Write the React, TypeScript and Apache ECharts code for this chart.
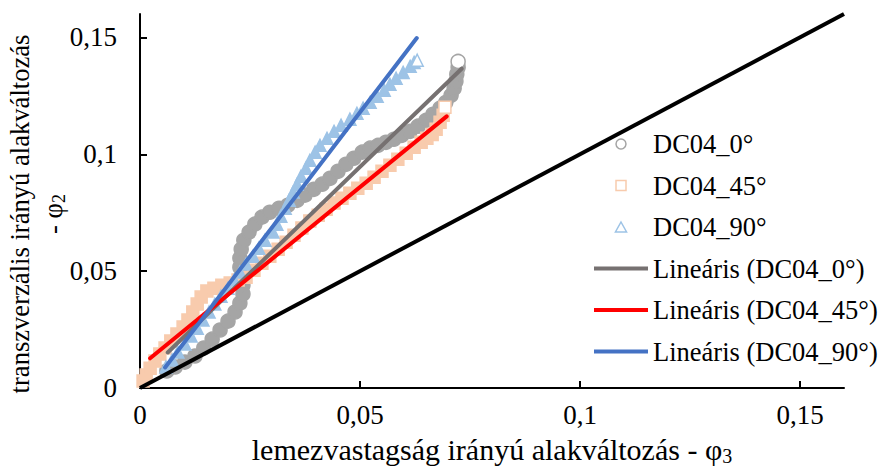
import React, { useEffect, useRef } from 'react';
import * as echarts from 'echarts';

// DC04_0° measured points (phi3, phi2)
const dc04_0: [number, number][] = [
  [0.0061, 0.0073], [0.0080, 0.0090], [0.0102, 0.0111], [0.0125, 0.0137], [0.0145, 0.0171],
  [0.0164, 0.0209], [0.0182, 0.0248], [0.0200, 0.0286], [0.0216, 0.0325], [0.0227, 0.0363],
  [0.0234, 0.0402], [0.0234, 0.0440], [0.0230, 0.0479], [0.0227, 0.0517], [0.0227, 0.0556],
  [0.0230, 0.0594], [0.0236, 0.0632], [0.0248, 0.0667], [0.0261, 0.0701], [0.0277, 0.0731],
  [0.0295, 0.0752], [0.0316, 0.0769], [0.0336, 0.0782], [0.0357, 0.0803], [0.0375, 0.0825],
  [0.0395, 0.0850], [0.0414, 0.0872], [0.0432, 0.0897], [0.0450, 0.0927], [0.0468, 0.0957],
  [0.0486, 0.0983], [0.0505, 0.1009], [0.0523, 0.1026], [0.0541, 0.1038], [0.0559, 0.1051],
  [0.0577, 0.1064], [0.0595, 0.1081], [0.0614, 0.1098], [0.0632, 0.1120], [0.0650, 0.1145],
  [0.0666, 0.1171], [0.0682, 0.1197], [0.0695, 0.1222], [0.0707, 0.1252], [0.0714, 0.1282],
  [0.0718, 0.1312], [0.0720, 0.1342], [0.0723, 0.1372], [0.0723, 0.1397],
];

// DC04_45° measured points
const dc04_45: [number, number][] = [
  [0.0007, 0.0030], [0.0014, 0.0056], [0.0023, 0.0085], [0.0034, 0.0115], [0.0045, 0.0145],
  [0.0057, 0.0171], [0.0070, 0.0201], [0.0084, 0.0231], [0.0098, 0.0261], [0.0109, 0.0291],
  [0.0120, 0.0325], [0.0130, 0.0359], [0.0139, 0.0389], [0.0152, 0.0415], [0.0168, 0.0427],
  [0.0186, 0.0440], [0.0205, 0.0449], [0.0223, 0.0462], [0.0241, 0.0474], [0.0259, 0.0504],
  [0.0277, 0.0534], [0.0295, 0.0564], [0.0314, 0.0594], [0.0332, 0.0624], [0.0350, 0.0654],
  [0.0368, 0.0684], [0.0386, 0.0714], [0.0405, 0.0739], [0.0423, 0.0765], [0.0441, 0.0791],
  [0.0459, 0.0812], [0.0477, 0.0833], [0.0495, 0.0855], [0.0514, 0.0876], [0.0532, 0.0902],
  [0.0550, 0.0927], [0.0568, 0.0953], [0.0586, 0.0979], [0.0605, 0.1004], [0.0623, 0.1030],
  [0.0639, 0.1051], [0.0652, 0.1068], [0.0664, 0.1085], [0.0673, 0.1107], [0.0682, 0.1137],
  [0.0689, 0.1167], [0.0693, 0.1201],
];

// DC04_90° measured points
const dc04_90: [number, number][] = [
  [0.0059, 0.0090], [0.0073, 0.0120], [0.0086, 0.0154], [0.0102, 0.0188], [0.0116, 0.0222],
  [0.0130, 0.0256], [0.0143, 0.0291], [0.0157, 0.0325], [0.0170, 0.0359], [0.0184, 0.0393],
  [0.0200, 0.0427], [0.0214, 0.0462], [0.0227, 0.0496], [0.0241, 0.0530], [0.0257, 0.0564],
  [0.0270, 0.0598], [0.0284, 0.0632], [0.0302, 0.0667], [0.0311, 0.0701], [0.0320, 0.0735],
  [0.0330, 0.0769], [0.0339, 0.0803], [0.0348, 0.0838], [0.0357, 0.0872], [0.0366, 0.0906],
  [0.0377, 0.0940], [0.0386, 0.0974], [0.0398, 0.1009], [0.0409, 0.1038], [0.0425, 0.1068],
  [0.0441, 0.1098], [0.0457, 0.1124], [0.0477, 0.1150], [0.0493, 0.1175], [0.0507, 0.1197],
  [0.0523, 0.1222], [0.0539, 0.1248], [0.0555, 0.1274], [0.0568, 0.1299], [0.0582, 0.1325],
  [0.0598, 0.1350], [0.0614, 0.1376], [0.0623, 0.1393], [0.0630, 0.1402],
];

// Linear trend lines (end points)
const trend_0: [number, number][] = [[0.0063, 0.0152], [0.0731, 0.1366]];
const trend_45: [number, number][] = [[0.0023, 0.0127], [0.0697, 0.1162]];
const trend_90: [number, number][] = [[0.0057, 0.0088], [0.0629, 0.1497]];
// phi2 = phi3 reference line
const identityLine: [number, number][] = [[0, 0], [0.16, 0.16]];

const xTickValues = [0, 0.05, 0.1, 0.15];
const yTickValues = [0, 0.05, 0.1, 0.15];

const seriesNames = [
  'DC04_0°', 'DC04_45°', 'DC04_90°',
  'Lineáris (DC04_0°)', 'Lineáris (DC04_45°)', 'Lineáris (DC04_90°)',
];

const FONT = '"Liberation Serif", "Times New Roman", serif';
const C_GRAY = '#A5A5A5';
const C_ORANGE = '#F8CBAD';
const C_LBLUE = '#9DC3E6';
const C_TGRAY = '#767171';
const C_RED = '#FF0000';
const C_BLUE = '#4472C4';

const fmt = (v: number) => String(v).replace('.', ',');

function withHollowEnd(arr: [number, number][]) {
  return arr.map((p, i) =>
    i === arr.length - 1 ? { value: p, itemStyle: { color: '#ffffff' } } : p
  );
}

export default function App() {
  const ref = useRef<HTMLDivElement>(null);

  useEffect(() => {
    if (!ref.current) return;
    const chart = echarts.init(ref.current, undefined, { renderer: 'svg' });
    const scatter = (name: string, data: [number, number][], symbol: string, size: number, color: string) => ({
      name,
      type: 'scatter',
      data: withHollowEnd(data),
      symbol,
      symbolSize: size,
      itemStyle: { color, borderColor: color, borderWidth: 1.5, opacity: 1 },
      z: 2,
    });
    const trend = (name: string, data: [number, number][], color: string) => ({
      name,
      type: 'line',
      data,
      symbol: 'none',
      lineStyle: { color, width: 4, cap: 'round' },
      itemStyle: { color },
      z: 3,
    });
    const lineIcon = 'path://M0,0H54V4H0Z';
    const squareIcon = 'path://M0,0H10V10H0Z';
    const triIcon = 'path://M5,0L10,9L0,9Z';
    chart.setOption({
      animation: false,
      backgroundColor: '#ffffff',
      textStyle: { fontFamily: FONT },
      grid: { left: 140, right: 36, top: 14, bottom: 78, outerBoundsMode: 'none', containLabel: false },
      graphic: [
        {
          type: 'text',
          x: 36,
          y: 214,
          rotation: Math.PI / 2,
          style: {
            text: '{t|transzverzális irányú alakváltozás}\n{t|- φ}{s|2}',
            align: 'center',
            verticalAlign: 'middle',
            rich: {
              t: { fontSize: 26.6, fontFamily: FONT, fill: '#000', lineHeight: 33 },
              s: { fontSize: 18, fontFamily: FONT, fill: '#000', padding: [12, 0, 0, 0], lineHeight: 33 },
            },
          },
        },
      ],
      xAxis: {
        type: 'value',
        min: 0,
        max: 0.16,
        interval: 0.05,
        name: '{t|lemezvastagság irányú alakváltozás - φ}{s|3}',
        nameLocation: 'middle',
        nameGap: 44,
        nameTextStyle: {
          rich: {
            t: { fontSize: 30, fontFamily: FONT, color: '#000' },
            s: { fontSize: 20, fontFamily: FONT, color: '#000', padding: [14, 0, 0, 0] },
          },
        },
        axisLine: { show: true, lineStyle: { color: '#000', width: 2 } },
        axisTick: { show: true, inside: true, length: 7, lineStyle: { color: '#000', width: 2 }, customValues: xTickValues },
        axisLabel: { fontSize: 27, color: '#000', fontFamily: FONT, margin: 13, formatter: fmt, customValues: xTickValues },
        splitLine: { show: false },
      },
      yAxis: {
        type: 'value',
        min: 0,
        max: 0.16,
        interval: 0.05,
        axisLine: { show: true, lineStyle: { color: '#000', width: 2 } },
        axisTick: { show: true, inside: true, length: 7, lineStyle: { color: '#000', width: 2 }, customValues: yTickValues },
        axisLabel: { fontSize: 27, color: '#000', fontFamily: FONT, margin: 23, formatter: fmt, customValues: yTickValues },
        splitLine: { show: false },
      },
      legend: {
        orient: 'vertical',
        left: 594,
        top: 129,
        padding: 0,
        itemWidth: 54,
        itemHeight: 10,
        itemGap: 11.5,
        symbolKeepAspect: true,
        textStyle: { fontSize: 26.5, fontFamily: FONT, color: '#000', lineHeight: 30 },
        data: [
          { name: seriesNames[0], icon: 'circle', itemStyle: { color: '#fff', borderColor: C_GRAY, borderWidth: 1.5 } },
          { name: seriesNames[1], icon: squareIcon, itemStyle: { color: '#fff', borderColor: C_ORANGE, borderWidth: 1.5 } },
          { name: seriesNames[2], icon: triIcon, itemStyle: { color: '#fff', borderColor: C_LBLUE, borderWidth: 1.5 } },
          { name: seriesNames[3], icon: lineIcon, itemStyle: { color: C_TGRAY, borderWidth: 0 } },
          { name: seriesNames[4], icon: lineIcon, itemStyle: { color: C_RED, borderWidth: 0 } },
          { name: seriesNames[5], icon: lineIcon, itemStyle: { color: C_BLUE, borderWidth: 0 } },
        ],
      },
      series: [
        scatter(seriesNames[0], dc04_0, 'circle', 14, C_GRAY),
        scatter(seriesNames[1], dc04_45, 'rect', 12, C_ORANGE),
        scatter(seriesNames[2], dc04_90, 'triangle', 12, C_LBLUE),
        trend(seriesNames[3], trend_0, C_TGRAY),
        trend(seriesNames[4], trend_45, C_RED),
        trend(seriesNames[5], trend_90, C_BLUE),
        {
          name: 'phi2=phi3',
          type: 'line',
          data: identityLine,
          symbol: 'none',
          lineStyle: { color: '#000', width: 4 },
          z: 4,
          silent: true,
        },
      ],
    });
    return () => chart.dispose();
  }, []);

  return (
    <div
      ref={ref}
      style={{ position: 'fixed', left: 0, top: 0, width: 880, height: 466, background: '#fff' }}
    />
  );
}
